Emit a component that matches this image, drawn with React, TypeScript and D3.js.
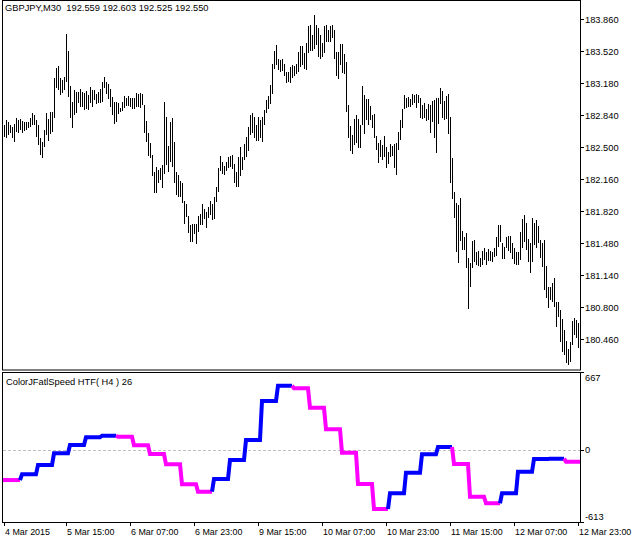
import React from 'react';
import * as d3 from 'd3';

const title = 'GBPJPY,M30  192.559 192.603 192.525 192.550';
const indicatorName = 'ColorJFatlSpeed HTF( H4 ) 26';

const highs = [
  182.734,182.787,182.769,182.734,182.716,182.741,182.805,182.787,182.798,182.780,
  182.769,182.763,182.763,182.805,182.861,182.840,182.787,182.734,182.593,182.556,
  182.681,182.858,182.798,182.875,182.875,183.230,183.336,183.361,183.230,183.212,
  183.247,183.701,183.520,183.148,182.981,183.106,183.088,183.081,183.116,183.088,
  183.071,183.098,183.053,183.141,183.106,183.106,183.063,183.088,183.113,183.188,
  183.247,183.194,183.166,183.116,183.035,182.981,182.981,182.964,182.918,182.981,
  183.042,183.024,183.039,183.024,183.024,183.024,183.077,183.063,183.071,183.063,
  182.946,182.776,182.646,182.546,182.415,182.231,182.291,182.256,182.274,182.309,
  182.975,182.816,182.514,182.769,182.805,182.550,182.231,182.203,182.139,182.114,
  181.930,181.894,181.770,181.671,181.679,181.679,181.682,181.770,181.788,181.894,
  181.841,181.806,181.866,181.930,181.894,181.972,182.072,182.274,182.404,182.344,
  182.298,182.344,182.397,182.408,182.415,182.316,182.238,182.391,182.497,182.397,
  182.532,182.610,182.709,182.840,182.858,182.816,182.734,182.816,182.787,182.822,
  182.893,182.999,183.042,183.159,183.382,183.523,183.584,183.432,183.424,183.435,
  183.382,183.294,183.300,183.347,183.371,183.361,183.382,183.506,183.573,183.573,
  183.496,183.602,183.786,183.796,183.690,183.903,183.796,183.768,183.690,183.602,
  183.786,183.796,183.743,183.786,183.796,183.743,183.506,183.506,183.591,183.591,
  183.488,183.406,182.946,182.723,182.628,182.794,182.840,182.794,182.734,183.148,
  183.053,183.007,183.007,182.936,182.840,182.848,182.617,182.546,182.574,182.521,
  182.617,182.497,182.450,182.532,182.511,182.532,182.539,182.663,182.787,182.901,
  183.053,183.018,183.028,183.007,183.063,183.053,183.063,183.053,183.018,182.946,
  182.964,182.901,182.957,182.946,182.992,182.999,183.018,183.018,183.130,183.095,
  182.989,183.042,183.060,182.816,182.386,182.025,181.902,181.884,181.955,181.608,
  181.547,181.583,181.324,181.264,181.501,181.512,181.388,181.395,181.324,181.395,
  181.430,181.388,181.416,181.395,181.381,181.430,181.547,181.671,181.671,181.477,
  181.441,181.547,181.558,181.558,181.477,181.424,181.388,181.388,181.600,181.732,
  181.778,181.696,181.523,181.483,181.743,181.689,181.724,181.664,181.512,181.477,
  181.512,181.239,181.009,181.016,181.052,181.105,180.856,180.856,180.768,180.673,
  180.556,180.439,180.354,180.431,180.651,180.680,180.662,180.627,
];

const lows = [
  182.610,182.599,182.628,182.646,182.593,182.556,182.663,182.646,182.681,182.646,
  182.670,182.681,182.699,182.716,182.734,182.734,182.610,182.521,182.415,182.380,
  182.503,182.628,182.567,182.638,182.663,182.811,183.124,183.106,183.053,183.071,
  183.106,183.194,183.035,182.811,182.705,182.840,182.858,182.964,182.928,182.928,
  182.893,182.901,182.893,182.971,182.928,182.999,182.954,182.964,182.971,182.981,
  183.124,183.063,183.010,182.928,182.840,182.741,182.769,182.848,182.869,182.883,
  182.911,182.939,182.936,182.928,182.904,182.904,182.928,182.928,182.918,182.946,
  182.646,182.556,182.408,182.380,182.195,182.008,182.015,182.114,182.149,182.061,
  182.210,182.309,182.231,182.344,182.291,182.121,181.990,181.966,181.966,181.908,
  181.679,181.760,181.583,181.488,181.488,181.576,181.466,181.600,181.671,181.671,
  181.735,181.636,181.743,181.778,181.724,181.735,181.919,182.025,182.245,182.210,
  182.203,182.245,182.274,182.291,182.263,182.121,182.072,182.078,182.195,182.256,
  182.362,182.397,182.461,182.628,182.646,182.593,182.567,182.567,182.593,182.556,
  182.734,182.858,182.901,182.954,183.060,183.326,183.371,183.318,183.300,183.308,
  183.254,183.183,183.194,183.183,183.230,183.254,183.276,183.294,183.353,183.371,
  183.326,183.318,183.496,183.523,183.523,183.538,183.584,183.460,183.435,183.460,
  183.502,183.619,183.619,183.619,183.655,183.432,183.258,183.223,183.371,183.283,
  183.276,182.875,182.593,182.461,182.426,182.521,182.539,182.486,182.486,182.734,
  182.638,182.787,182.734,182.787,182.699,182.593,182.468,182.333,182.391,182.362,
  182.397,182.274,182.319,182.397,182.404,182.274,182.203,182.468,182.574,182.699,
  182.901,182.911,182.928,182.928,182.946,182.964,182.911,182.964,182.805,182.794,
  182.805,182.780,182.787,182.652,182.769,182.593,182.433,182.741,182.954,182.811,
  182.787,182.794,182.635,182.114,181.944,181.743,181.388,181.264,181.501,181.406,
  181.406,181.211,180.779,181.016,181.218,181.281,181.246,181.239,181.228,181.246,
  181.299,181.246,181.289,181.289,181.281,181.335,181.345,181.441,181.494,181.310,
  181.310,181.424,181.395,181.371,181.310,181.254,181.246,181.246,181.299,181.424,
  181.494,181.406,181.281,181.165,181.281,181.459,181.424,181.477,181.318,181.228,
  180.981,180.893,180.786,180.874,180.856,180.803,180.591,180.697,180.431,180.325,
  180.290,180.202,180.184,180.219,180.396,180.503,180.468,180.361,
];

// H4 steps of the indicator (one value per 4-hour block = 8 M30 bars)
const stepValues = [
  -255, -206, -127, -27, 44, 110, 123, 115, 42, -33, -121, -291,
  -354, -246, -84, 87, 420, 550, 528, 362, 178, -22, -289, -502,
  -368, -192, -35, 27, -118, -397, -453, -368, -184, -75, -73, -98,
];
// 'up' = blue, 'down' = magenta
const stepTrend = [
  'down', 'up', 'up', 'up', 'up', 'up', 'up', 'down', 'down', 'down', 'down', 'down',
  'down', 'up', 'up', 'up', 'up', 'up', 'down', 'down', 'down', 'down', 'down', 'down',
  'up', 'up', 'up', 'up', 'down', 'down', 'down', 'up', 'up', 'up', 'up', 'down',
];

const priceTicks = [183.86, 183.52, 183.18, 182.84, 182.5, 182.16, 181.82, 181.48, 181.14, 180.8, 180.46];
const indicatorTicks = [667, 0, -613];
const timeLabels = ['4 Mar 2015', '5 Mar 15:00', '6 Mar 07:00', '6 Mar 23:00', '9 Mar 15:00',
  '10 Mar 07:00', '10 Mar 23:00', '11 Mar 15:00', '12 Mar 07:00', '12 Mar 23:00'];
const timeLabelBars = [0, 31, 63, 95, 127, 159, 191, 223, 255, 287];

const W = 632;
const H = 542;
const FONT = "'Liberation Sans', Arial, sans-serif";
const FS = 9.3;

export default function App() {
  const n = highs.length;
  const x = d3.scaleLinear().domain([0, n - 1]).range([4, 578]);
  const yP = d3.scaleLinear().domain([180.46, 183.86]).range([339, 19]);
  const yI = d3.scaleLinear().domain([-613, 667]).range([522, 372]);

  const stepOf = (i: number) => (i === 0 ? 0 : Math.min(stepValues.length - 1, Math.floor((i - 1) / 8)));
  const barVal = (i: number) => stepValues[stepOf(i)];
  const barTrend = (i: number) => stepTrend[stepOf(i)];

  // group per-bar segments into same-coloured polylines
  const groups: { trend: string; pts: [number, number][] }[] = [];
  let cur: { trend: string; pts: [number, number][] } | null = null;
  for (let i = 0; i < n; i++) {
    const t = barTrend(i);
    const p: [number, number] = [x(i), yI(barVal(i))];
    if (i === 0) {
      cur = { trend: t, pts: [[x(0) - 1, yI(barVal(0))], p] };
      groups.push(cur);
      continue;
    }
    if (cur && cur.trend === t) {
      cur.pts.push(p);
    } else {
      const prev: [number, number] = [x(i - 1), yI(barVal(i - 1))];
      cur = { trend: t, pts: [prev, p] };
      groups.push(cur);
    }
  }
  if (cur) cur.pts.push([x(n - 1) + 2, yI(barVal(n - 1))]);
  const line = d3.line<[number, number]>().x((d) => d[0]).y((d) => d[1]);

  const clampY = (v: number, lo: number, hi: number) => Math.max(lo, Math.min(hi, v));

  return (
    <svg width={W} height={H} style={{ position: 'absolute', left: 0, top: 0, background: '#fff' }}
      fontFamily={FONT} fontSize={FS}>
      <rect x={0} y={0} width={W} height={H} fill="#fff" />
      {/* panels */}
      <rect x={2.5} y={0.5} width={578} height={369.5} fill="none" stroke="#000" strokeWidth={1} />
      <rect x={2.5} y={372.5} width={578} height={150} fill="none" stroke="#000" strokeWidth={1} />

      {/* price bars */}
      <g shapeRendering="crispEdges">
        {highs.map((h, i) => {
          const top = Math.round(yP(h));
          const bot = Math.round(yP(lows[i]));
          return <rect key={i} x={Math.round(x(i))} y={top} width={1} height={Math.max(1, bot - top)} fill="#000" />;
        })}
      </g>

      {/* price axis */}
      {priceTicks.map((t) => {
        const yy = Math.round(yP(t)) + 0.5;
        return (
          <g key={t}>
            <line x1={580} x2={584} y1={yy} y2={yy} stroke="#000" />
            <text x={585} y={yy + 3.3} fill="#000">{t.toFixed(3)}</text>
          </g>
        );
      })}

      {/* indicator zero line */}
      <line x1={3} x2={580} y1={Math.round(yI(0)) + 0.5} y2={Math.round(yI(0)) + 0.5}
        stroke="#C0C0C0" strokeDasharray="3,2" />

      {/* indicator line */}
      {groups.map((g, k) => (
        <path key={k} d={line(g.pts) || ''} fill="none"
          stroke={g.trend === 'up' ? '#0000FF' : '#FF00FF'} strokeWidth={4} strokeLinejoin="miter" />
      ))}

      {/* indicator axis */}
      {indicatorTicks.map((t) => {
        const yy = Math.round(yI(t)) + 0.5;
        const ly = clampY(yI(t), 377.5, 516.5);
        return (
          <g key={t}>
            <line x1={580} x2={584} y1={yy} y2={yy} stroke="#000" />
            <text x={585} y={ly + 3.3} fill="#000">{t}</text>
          </g>
        );
      })}

      {/* time axis */}
      {timeLabels.map((lab, k) => {
        const xx = Math.round(x(timeLabelBars[k])) + 0.5;
        return (
          <g key={lab}>
            <line x1={xx} x2={xx} y1={522} y2={526} stroke="#000" />
            <text x={xx + 0.5} y={534.5} fill="#000" fontSize={8.9}>{lab}</text>
          </g>
        );
      })}

      {/* labels */}
      <text x={5} y={10.8} fill="#000" style={{ whiteSpace: 'pre' }}>{title}</text>
      <text x={6} y={384.5} fill="#000">{indicatorName}</text>
    </svg>
  );
}
